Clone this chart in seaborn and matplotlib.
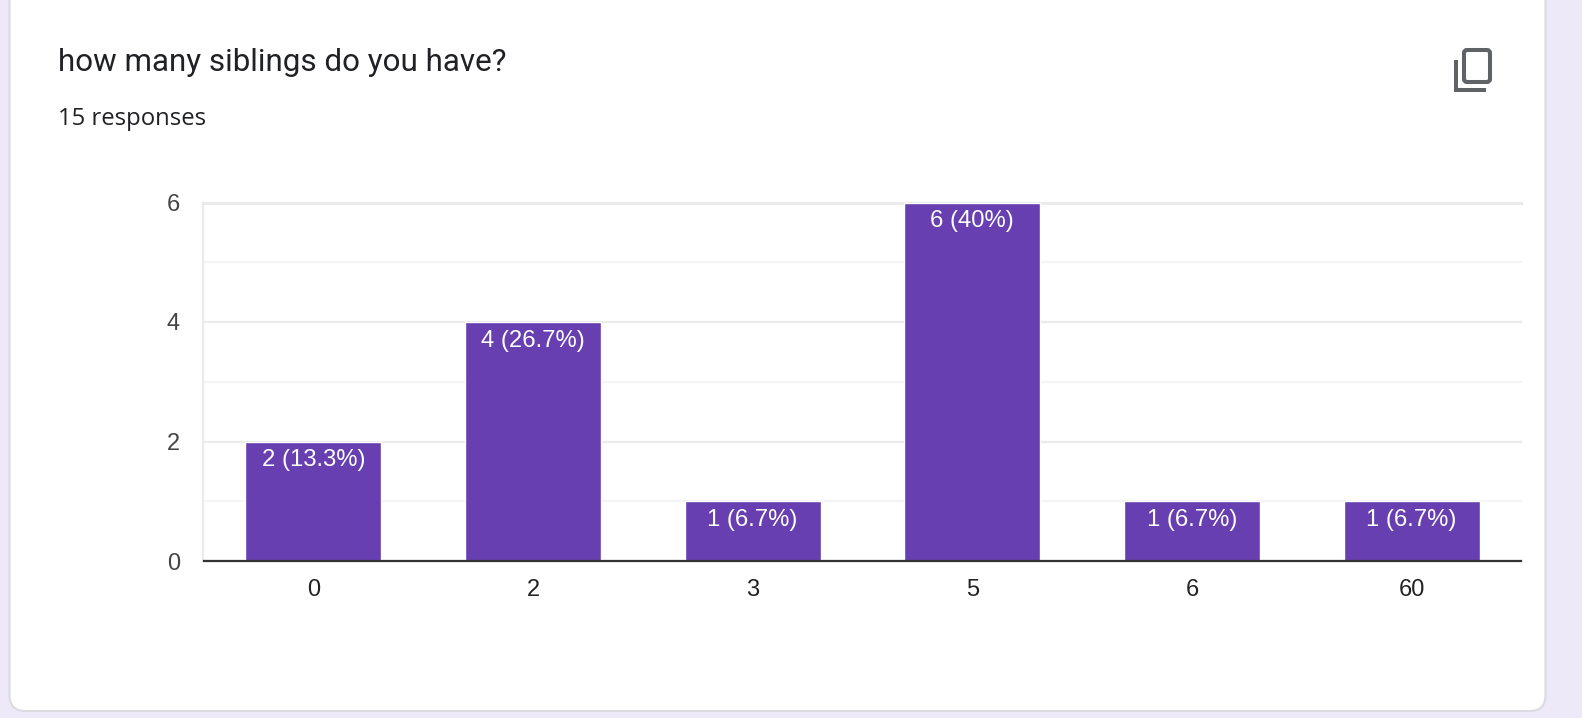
import matplotlib
matplotlib.use('Agg')
import matplotlib.pyplot as plt
import pandas as pd
import seaborn as sns
from matplotlib.patches import FancyBboxPatch, Rectangle

TITLE = 'how many siblings do you have?'
SUBTITLE = '15 responses'
answers = ['0', '2', '3', '5', '6', '60']
counts = [2, 4, 1, 6, 1, 1]
bar_labels = ['2 (13.3%)', '4 (26.7%)', '1 (6.7%)', '6 (40%)', '1 (6.7%)', '1 (6.7%)']
major_ticks = [0, 2, 4, 6]
minor_ticks = [1, 3, 5]

W, H = 1582, 718
PURPLE = '#673fb0'
BG = '#ede9f8'
ICON = '#5f6368'


def main():
    sns.set_theme(style='white')
    plt.rcParams['font.family'] = ['Liberation Sans', 'DejaVu Sans']

    fig = plt.figure(figsize=(W / 100, H / 100), dpi=100, facecolor=BG)

    # page layer in pixel coordinates: card, heading, copy icon
    page = fig.add_axes([0, 0, 1, 1], zorder=0)
    page.set_xlim(0, W)
    page.set_ylim(H, 0)
    page.axis('off')
    page.add_patch(FancyBboxPatch((9.5, -40), 1536, 751, boxstyle='round,pad=0,rounding_size=16',
                                  fc='white', ec='#dadce0', lw=1.5))
    page.text(57.5, 62.5, TITLE, fontsize=22.6, family='Roboto', color='#202124', va='center')
    page.text(57.5, 119, SUBTITLE, fontsize=17.2, family='Open Sans', color='#202124', va='center')
    page.add_patch(FancyBboxPatch((1464, 50), 26, 32, boxstyle='round,pad=0,rounding_size=3',
                                  fc='none', ec=ICON, lw=2.9))
    page.add_patch(Rectangle((1454, 60), 4, 32, fc=ICON, ec='none'))
    page.add_patch(Rectangle((1454, 88), 32, 4, fc=ICON, ec='none'))

    # chart, placed on the same pixels as the reference plot area
    ax = fig.add_axes([203.5 / W, 1 - 561 / H, 1318 / W, 358.5 / H], zorder=1)
    ax.patch.set_alpha(0)
    df = pd.DataFrame({'answer': answers, 'count': counts})
    sns.barplot(data=df, x='answer', y='count', color=PURPLE, saturation=1, width=0.62, ax=ax, zorder=3)

    ax.set_xlim(-0.5, len(answers) - 0.5)
    ax.set_ylim(0, 6)
    ax.set_xlabel('')
    ax.set_ylabel('')
    ax.set_yticks(major_ticks)
    ax.set_yticks(minor_ticks, minor=True)
    ax.grid(True, which='major', axis='y', color='#ebebeb', lw=1.6, zorder=0)
    ax.grid(True, which='minor', axis='y', color='#f5f5f5', lw=1.6, zorder=0)
    ax.tick_params(axis='x', length=0, labelsize=17, labelcolor='#222222', pad=12.8)
    ax.tick_params(axis='y', which='major', length=0, labelsize=17, labelcolor='#444444', pad=17)
    ax.tick_params(axis='y', which='minor', length=0)
    for lab in ax.get_yticklabels():
        lab.set_verticalalignment('center_baseline')

    ax.spines['right'].set_visible(False)
    ax.spines['top'].set_color('#ebebeb')
    ax.spines['top'].set_linewidth(2.2)
    ax.spines['left'].set_color('#ebebeb')
    ax.spines['left'].set_linewidth(1.6)
    ax.spines['bottom'].set_color('#333333')
    ax.spines['bottom'].set_linewidth(1.6)
    ax.spines['bottom'].set_zorder(5)

    ax.bar_label(ax.containers[0], labels=bar_labels, label_type='edge', padding=-21.5,
                 color='white', fontsize=17.2, zorder=6)

    fig.savefig('out.png', dpi=100, facecolor=BG)
    plt.close(fig)


if __name__ == '__main__':
    main()
